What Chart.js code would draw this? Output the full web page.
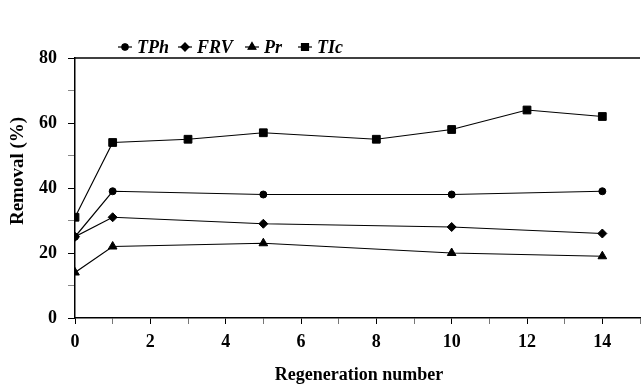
<!DOCTYPE html>
<html>
<head>
<meta charset="utf-8">
<script src="https://cdn.jsdelivr.net/npm/chart.js@4.4.1/dist/chart.umd.min.js"></script>
<style>
  html, body { margin: 0; padding: 0; background: #fff; overflow: hidden; }
  #wrap { width: 648px; height: 385px; }
</style>
</head>
<body>
<div id="wrap"><canvas id="removalChart"></canvas></div>
<script>
// regeneration cycles and removal (%) per component
const tphX = [0, 1, 5, 10, 14];
const tphY = [25, 39, 38, 38, 39];
const frvX = [0, 1, 5, 10, 14];
const frvY = [25, 31, 29, 28, 26];
const prX = [0, 1, 5, 10, 14];
const prY = [14, 22, 23, 20, 19];
const ticX = [0, 1, 3, 5, 8, 10, 12, 14];
const ticY = [31, 54, 55, 57, 55, 58, 64, 62];
const seriesLabels = ['TPh', 'FRV', 'Pr', 'TIc'];
const xTitle = 'Regeneration number';
const yTitle = 'Removal (%)';

const serif = "'Liberation Serif', 'DejaVu Serif', serif";

function pts(xs, ys) {
    return xs.map((x, i) => ({ x: x, y: ys[i] }));
}

function series(label, xs, ys, style, radius) {
    return {
        label: label,
        data: pts(xs, ys),
        borderColor: '#000',
        backgroundColor: '#000',
        borderWidth: 1.2,
        pointStyle: style,
        pointRadius: radius,
        pointBackgroundColor: '#000',
        pointBorderColor: '#000',
        pointBorderWidth: 1,
        tension: 0,
        fill: false,
    };
}

// top frame line, axis titles and the legend inside the plot
const framePlugin = {
    id: 'frame',
    afterDraw(chart) {
        const { ctx, chartArea } = chart;
        ctx.save();
        ctx.strokeStyle = '#000';
        ctx.fillStyle = '#000';
        ctx.lineWidth = 1.5;
        ctx.beginPath();
        ctx.moveTo(chartArea.left, chartArea.top);
        ctx.lineTo(chartArea.right, chartArea.top);
        ctx.stroke();

        // axis titles
        ctx.textAlign = 'center';
        ctx.textBaseline = 'middle';
        ctx.font = "bold 18px " + serif;
        ctx.fillText(xTitle, 359, 375);
        ctx.save();
        ctx.translate(18, 171);
        ctx.rotate(-Math.PI / 2);
        ctx.font = "bold 19px " + serif;
        ctx.fillText(yTitle, 0, 0);
        ctx.restore();

        // legend
        const starts = [118, 178, 245, 298];
        const y = 47;
        ctx.font = "italic bold 18px " + serif;
        ctx.textAlign = 'left';
        chart.data.datasets.forEach((ds, i) => {
            const x0 = starts[i];
            ctx.lineWidth = 1.2;
            ctx.beginPath();
            ctx.moveTo(x0, y);
            ctx.lineTo(x0 + 14, y);
            ctx.stroke();
            Chart.helpers.drawPoint(ctx, {
                pointStyle: ds.pointStyle,
                radius: ds.pointRadius * 0.9,
                borderWidth: 1,
            }, x0 + 7, y);
            ctx.fill();
            ctx.fillText(ds.label, x0 + 19, y + 1);
        });
        ctx.restore();
    }
};

const chartConfig = {
    type: 'line',
    data: {
        datasets: [
            series(seriesLabels[0], tphX, tphY, 'circle', 3.5),
            series(seriesLabels[1], frvX, frvY, 'rectRot', 4.5),
            series(seriesLabels[2], prX, prY, 'triangle', 5),
            series(seriesLabels[3], ticX, ticY, 'rect', 5.5),
        ],
    },
    options: {
        responsive: true,
        maintainAspectRatio: false,
        animation: false,
        layout: { padding: { top: 58, right: 2, left: 0, bottom: 0 } },
        scales: {
            x: {
                type: 'linear',
                min: 0,
                max: 15,
                afterFit(scale) { scale.height = 67; },
                ticks: {
                    stepSize: 1,
                    autoSkip: false,
                    maxRotation: 0,
                    padding: 8,
                    color: '#000',
                    font: { family: serif, size: 18, weight: 'bold' },
                    callback: (v) => (v % 2 === 0 && v <= 14 ? v : ''),
                },
                grid: {
                    drawOnChartArea: false,
                    drawTicks: true,
                    tickLength: 6,
                    tickColor: (c) => (c.tick && c.tick.value % 2 === 0 ? '#000' : '#777'),
                },
                border: { color: '#000', width: 1.5 },
            },
            y: {
                min: 0,
                max: 80,
                afterFit(scale) { scale.width = 75; },
                ticks: {
                    stepSize: 10,
                    padding: 11,
                    color: '#000',
                    font: { family: serif, size: 18, weight: 'bold' },
                    callback: (v) => (v % 20 === 0 ? v : ''),
                },
                grid: {
                    drawOnChartArea: false,
                    drawTicks: true,
                    tickLength: 7,
                    tickColor: (c) => (c.tick && c.tick.value % 20 === 0 ? '#000' : '#888'),
                },
                border: { color: '#000', width: 1.5 },
            },
        },
        plugins: {
            legend: { display: false },
            tooltip: { enabled: false },
        },
    },
    plugins: [framePlugin],
};

const removalChart = new Chart(document.getElementById('removalChart').getContext('2d'), chartConfig);
</script>
</body>
</html>
